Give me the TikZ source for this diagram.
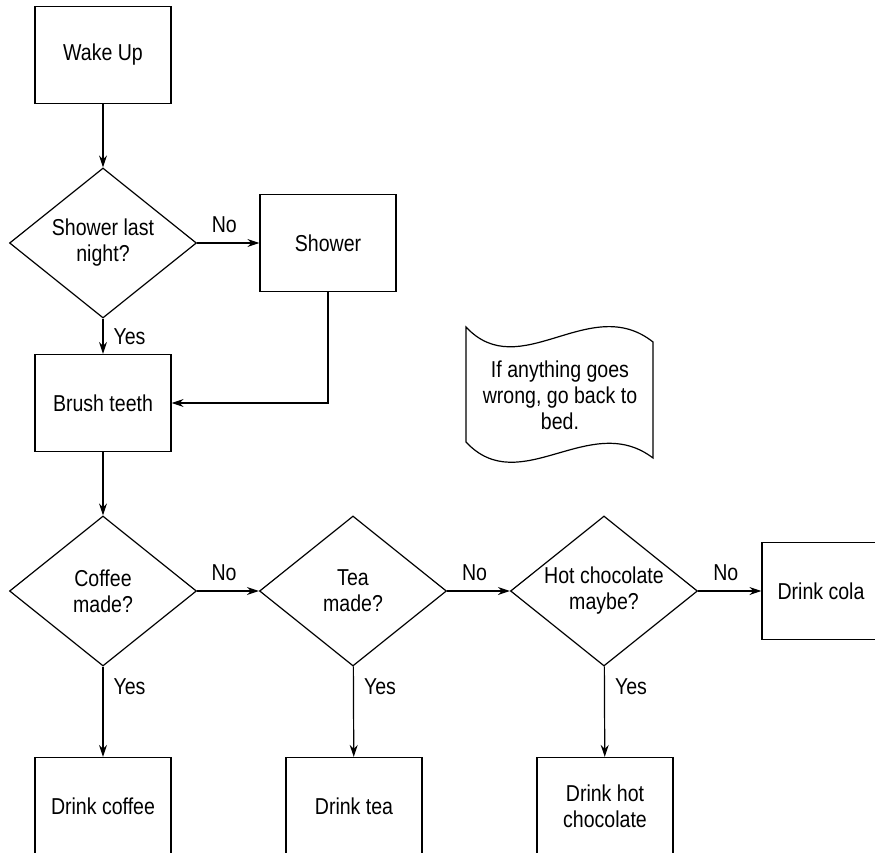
\documentclass[tikz,border=0pt]{standalone}
\usepackage{fontspec}
\setmainfont{Liberation Sans}[FakeStretch=0.85]
\usepackage{tikz}
\usetikzlibrary{arrows.meta,positioning,shapes.geometric}
\newcommand{\flowfont}{\fontsize{23}{26}\selectfont}
\newcommand{\memoflag}{\draw (466,327) .. controls (520,385) and (590,292) .. (653,342) -- (653,458) .. controls (590,410) and (520,500) .. (466,442) -- cycle;}

\begin{document}
\begin{tikzpicture}[x=1pt,y=-1pt,line width=1.2pt,
  stepbox/.style={draw,rectangle,minimum width=136pt,minimum height=97pt,inner sep=0pt,align=center,font=\flowfont},
  choice/.style={draw,diamond,aspect=1.24,minimum width=187pt,minimum height=150pt,inner sep=0pt,align=center,font=\flowfont},
  flowarrow/.style={-{Stealth[length=12pt,width=8pt]}},
  answer/.style={font=\flowfont,inner sep=2pt}]
\useasboundingbox (0,0) rectangle (875,852);
\clip (0,0) rectangle (875,852);
% morning steps
\node[stepbox] (wake) at (103,55) {Wake Up};
\node[choice] (showerq) at (103,243) {Shower last\\night?};
\node[stepbox] (shower) at (328,243) {Shower};
\node[stepbox] (brush) at (103,403) {Brush teeth};
% drinks
\node[choice] (coffeeq) at (103,591) {Coffee\\made?};
\node[choice] (teaq) at (353,591) {Tea\\made?};
\node[choice] (hotq) at (604,591) {Hot chocolate\\maybe?};
\node[stepbox,minimum width=118pt] (cola) at (821,591) {Drink cola};
\node[stepbox] (coffee) at (103,806) {Drink coffee};
\node[stepbox] (tea) at (354,806) {Drink tea};
\node[stepbox] (hot) at (605,806) {Drink hot\\chocolate};
% note
\memoflag
\node[font=\flowfont,align=center] (memo) at (560,395) {If anything goes\\wrong, go back to\\bed.};
% connectors
\draw[flowarrow] (wake) -- (showerq);
\draw[flowarrow] (showerq) -- node[answer,above=8pt,xshift=-4pt] (no1) {No} (shower);
\draw[flowarrow] (showerq) -- node[answer,right=8pt] (yes1) {Yes} (brush);
\draw[flowarrow] (shower.south) |- (brush.east);
\draw[flowarrow] (brush) -- (coffeeq);
\draw[flowarrow] (coffeeq) -- node[answer,above=8pt,xshift=-4pt] (no2) {No} (teaq);
\draw[flowarrow] (teaq) -- node[answer,above=8pt,xshift=-4pt] (no3) {No} (hotq);
\draw[flowarrow] (hotq) -- node[answer,above=8pt,xshift=-4pt] (no4) {No} (cola);
\draw[flowarrow] (coffeeq) -- node[answer,right=8pt,pos=0.22] (yes2) {Yes} (coffee);
\draw[flowarrow] (teaq) -- node[answer,right=8pt,pos=0.22] (yes3) {Yes} (tea);
\draw[flowarrow] (hotq) -- node[answer,right=8pt,pos=0.22] (yes4) {Yes} (hot);
\end{tikzpicture}
\end{document}
